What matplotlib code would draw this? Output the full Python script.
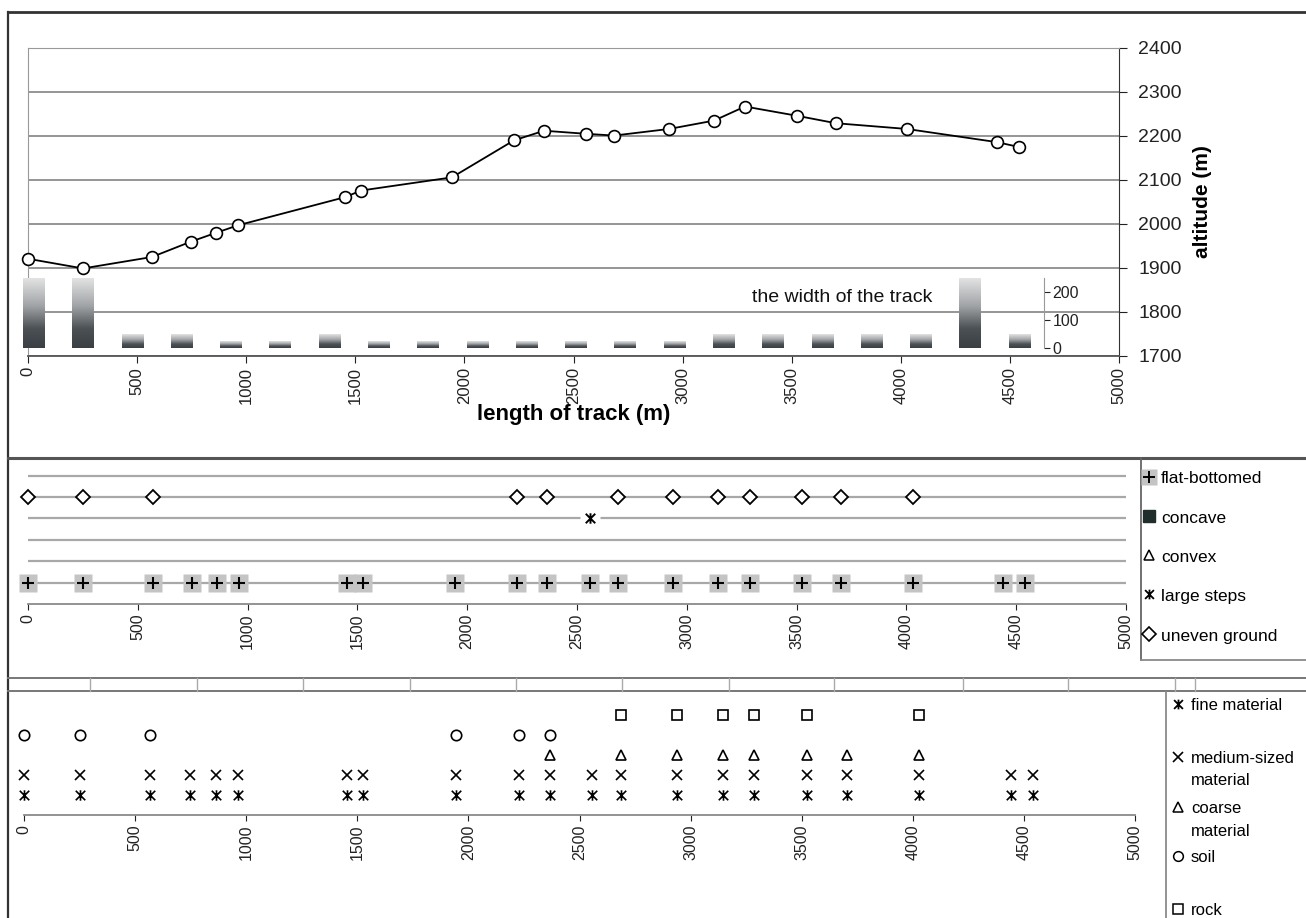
import numpy as np
import matplotlib
matplotlib.use('Agg')
import matplotlib.pyplot as plt
from matplotlib.colors import LinearSegmentedColormap
from matplotlib.legend import Legend
from matplotlib.lines import Line2D
from matplotlib.path import Path

plt.rcParams['font.family'] = ['Liberation Sans', 'DejaVu Sans']

# ##############################################################################
# data
# ##############################################################################

# measuring points along the track (m) and their altitude (m)
track_len = [0, 252, 568, 747, 862, 962, 1453, 1526, 1943, 2227, 2365,
             2557, 2686, 2938, 3144, 3286, 3524, 3703, 4028, 4441, 4542]
altitude = [1921, 1899, 1925, 1960, 1980, 1997, 2061, 2076, 2106, 2190, 2212,
            2205, 2201, 2216, 2235, 2267, 2246, 2229, 2216, 2186, 2175]

# width of the track at each point (cm)
track_width = [250, 250, 50, 50, 25, 25, 50, 25, 25, 25, 25,
               25, 25, 25, 50, 50, 50, 50, 50, 250, 50]

# cross-section of the track bed
flat_bottomed_x = track_len
concave_x = []
convex_x = []
large_steps_x = [2557]
uneven_ground_x = [0, 252, 568, 2227, 2365, 2686, 2938, 3144, 3286, 3524, 3703, 4028]

# surface material
fine_x = track_len
medium_x = track_len
coarse_x = [2365, 2686, 2938, 3144, 3286, 3524, 3703, 4028]
soil_x = [0, 252, 568, 1943, 2227, 2365]
rock_x = [2686, 2938, 3144, 3286, 3524, 4028]

x_ticks = list(range(0, 5001, 500))
alt_ticks = list(range(1700, 2401, 100))
width_ticks = [0, 100, 200]

# ##############################################################################
# figure layout (everything in pixels of the 1306 x 918 picture)
# ##############################################################################
W, H = 1306, 918


def box(left, top, right, bottom):
    return [left / W, 1 - bottom / H, (right - left) / W, (bottom - top) / H]


fig = plt.figure(figsize=(W / 100, H / 100), dpi=100)

# excel-like star marker (x with a vertical stroke)
star = Path([(-1, -1), (1, 1), (-1, 1), (1, -1), (0, -1.1), (0, 1.1)],
            [Path.MOVETO, Path.LINETO] * 3)

tick_col = '#222222'
axis_col = '#8a8a8a'

# outer frame and separators
bg = fig.add_axes([0, 0, 1, 1], zorder=-5)
bg.set_xlim(0, W)
bg.set_ylim(H, 0)
bg.axis('off')
bg.plot([8, W], [12, 12], color='#333333', lw=2)
bg.plot([8, 8], [12, H], color='#333333', lw=1.6)
bg.plot([8, W], [458, 458], color='#555555', lw=2.2)
bg.plot([8, W], [678, 678], color='#777777', lw=1.4)
bg.plot([8, W], [691, 691], color='#777777', lw=1.4)
for sx in [90, 197, 303, 410, 516, 622, 729, 834, 963, 1068, 1175, 1195]:
    bg.plot([sx, sx], [678, 691], color='#aaaaaa', lw=1)

# ##############################################################################
# top panel: altitude profile
# ##############################################################################
ax = fig.add_axes(box(28, 48, 1119, 356))
ax.set_facecolor('none')
ax.plot(track_len, altitude, color='black', lw=1.3, marker='o', ms=8.5,
        mfc='white', mec='black', mew=1.2, zorder=6, clip_on=False)
ax.set_xlim(0, 5000)
ax.set_ylim(1700, 2400)
ax.set_xticks(x_ticks)
ax.set_yticks(alt_ticks)
ax.yaxis.tick_right()
ax.yaxis.set_label_position('right')
ax.grid(axis='y', color='#8c8c8c', lw=1.3)
ax.set_axisbelow(True)
ax.tick_params(axis='x', direction='out', length=5, labelsize=12, labelrotation=90,
               pad=3, colors=tick_col)
ax.tick_params(axis='y', direction='out', length=6, labelsize=14, pad=8, colors=tick_col)
for s in ['left', 'top']:
    ax.spines[s].set_color('#999999')
ax.spines['right'].set_color('#333333')
ax.spines['bottom'].set_color('#555555')
ax.spines['bottom'].set_linewidth(1.3)
ax.set_xlabel('length of track (m)', fontsize=16, fontweight='bold', labelpad=0)
ax.set_ylabel('altitude (m)', fontsize=15, fontweight='bold', labelpad=8)

# track width bars with a dark-to-light gradient
bax = fig.add_axes(box(9, 278, 1044, 348), zorder=3)
bax.patch.set_visible(False)
bar_cmap = LinearSegmentedColormap.from_list(
    'bars', [(0, '#3a3f43'), (0.28, '#4c5155'), (0.6, '#a0a3a6'), (1, '#e3e3e3')])
grad = np.linspace(0, 1, 256).reshape(-1, 1)
bars = bax.bar(range(len(track_width)), track_width, width=0.43, color='none', edgecolor='none')
for b in bars:
    bax.imshow(grad, extent=[b.get_x(), b.get_x() + b.get_width(), 0, b.get_height()],
               origin='lower', cmap=bar_cmap, aspect='auto', zorder=2)
bax.set_xlim(-0.5, len(track_width) - 0.5)
bax.set_ylim(0, 250)
bax.set_xticks([])
bax.set_yticks(width_ticks)
bax.yaxis.tick_right()
bax.tick_params(axis='y', direction='out', length=4, labelsize=11.5, pad=2,
                colors=tick_col)
for s in ['left', 'top', 'bottom']:
    bax.spines[s].set_visible(False)
bax.spines['right'].set_color('#999999')
bax.text(16.4, 182, 'the width of the track', fontsize=14, ha='center', va='center',
         color='#111111')

# ##############################################################################
# middle panel: cross-section of the track bed
# ##############################################################################
axm = fig.add_axes(box(28, 474, 1126, 604))
axm.set_xlim(0, 5000)
axm.set_ylim(0, 6.08)
axm.set_yticks(range(1, 7))
axm.tick_params(axis='y', left=False, labelleft=False)
axm.grid(axis='y', color='#a8a8a8', lw=1.6)
axm.set_axisbelow(True)
pm = dict(ls='none', clip_on=False)
axm.plot(flat_bottomed_x, [1] * len(flat_bottomed_x), marker='s', ms=12.5,
         mfc='#c4c4c4', mec='none', zorder=3, **pm)
axm.plot(flat_bottomed_x, [1] * len(flat_bottomed_x), marker='+', ms=8,
         mew=1.5, color='black', zorder=4, **pm)
axm.plot(concave_x, [2] * len(concave_x), marker='s', ms=8, color='#1f2e2a', **pm)
axm.plot(convex_x, [3] * len(convex_x), marker='^', ms=7, mfc='white', mec='black', **pm)
axm.plot(large_steps_x, [4] * len(large_steps_x), marker='s', ms=14,
         mfc='white', mec='none', zorder=3, **pm)
axm.plot(large_steps_x, [4] * len(large_steps_x), marker=star, ms=7.5,
         mec='black', mfc='none', mew=1.4, zorder=4, **pm)
axm.plot(uneven_ground_x, [5] * len(uneven_ground_x), marker='D', ms=7.5,
         mfc='white', mec='black', mew=1.3, zorder=4, **pm)
axm.set_xticks(x_ticks)
axm.tick_params(axis='x', direction='out', length=4, labelsize=11.5, labelrotation=90,
                pad=3, colors=tick_col)
for s in ['left', 'top', 'right']:
    axm.spines[s].set_visible(False)
axm.spines['bottom'].set_color(axis_col)
axm.spines['bottom'].set_linewidth(1.3)

# ##############################################################################
# bottom panel: surface material
# ##############################################################################
axb = fig.add_axes(box(24, 695, 1135, 815))
axb.set_xlim(0, 5000)
axb.set_ylim(0, 6)
mk = dict(ls='none', mfc='none', mec='black', mew=1.2, clip_on=False)
axb.plot(fine_x, [1] * len(fine_x), marker=star, ms=7.5, **mk)
axb.plot(medium_x, [2] * len(medium_x), marker='x', ms=7, **mk)
axb.plot(coarse_x, [3] * len(coarse_x), marker='^', ms=7.5, **mk)
axb.plot(soil_x, [4] * len(soil_x), marker='o', ms=7.5, **mk)
axb.plot(rock_x, [5] * len(rock_x), marker='s', ms=7.5, **mk)
axb.set_xticks(x_ticks)
axb.set_yticks([])
axb.tick_params(axis='x', direction='out', length=4, labelsize=11.5, labelrotation=90,
                pad=3, colors=tick_col)
for s in ['left', 'top', 'right']:
    axb.spines[s].set_visible(False)
axb.spines['bottom'].set_color(axis_col)
axb.spines['bottom'].set_linewidth(1.3)


# ##############################################################################
# legends
# ##############################################################################
def legend_box(rect):
    lax = fig.add_axes(rect)
    lax.patch.set_visible(False)
    lax.set_xticks([])
    lax.set_yticks([])
    for s in ['top', 'right']:
        lax.spines[s].set_visible(False)
    for s in ['left', 'bottom']:
        lax.spines[s].set_color(axis_col)
        lax.spines[s].set_linewidth(1.3)
    return lax


def add_entries(lax, entries, xoff, fs, tpad):
    for handle, label, yy in entries:
        leg = Legend(lax, [handle], [label], loc='center left', bbox_to_anchor=(xoff, yy),
                     frameon=False, fontsize=fs, handlelength=0.8, handletextpad=tpad,
                     borderaxespad=0, borderpad=0)
        lax.add_artist(leg)


blank = Line2D([], [], ls='none')
h_flat = (Line2D([], [], ls='none', marker='s', ms=11, mfc='#c4c4c4', mec='none'),
          Line2D([], [], ls='none', marker='+', ms=8, mew=1.4, color='black'))
h_concave = Line2D([], [], ls='none', marker='s', ms=8, mfc='#1f2e2a', mec='#1f2e2a')
h_convex = Line2D([], [], ls='none', marker='^', ms=6.5, mfc='white', mec='black', mew=1.1)
h_star = Line2D([], [], ls='none', marker=star, ms=7, mfc='none', mec='black', mew=1.3)
h_diam = Line2D([], [], ls='none', marker='D', ms=7, mfc='white', mec='black', mew=1.2)

lax_m = legend_box(box(1141, 458, W + 5, 660))
lax_m.spines['left'].set_color('#666666')
add_entries(lax_m, [(h_flat, 'flat-bottomed', 0.90),
                    (h_concave, 'concave', 0.703),
                    (h_convex, 'convex', 0.51),
                    (h_star, 'large steps', 0.317),
                    (h_diam, 'uneven ground', 0.119)], 0.006, 12.5, 0.3)

h_x = Line2D([], [], ls='none', marker='x', ms=7, mec='black', mew=1.2)
h_tri = Line2D([], [], ls='none', marker='^', ms=7, mfc='none', mec='black', mew=1.1)
h_circ = Line2D([], [], ls='none', marker='o', ms=7, mfc='none', mec='black', mew=1.1)
h_sq = Line2D([], [], ls='none', marker='s', ms=7, mfc='none', mec='black', mew=1.1)

lax_b = legend_box(box(1166, 692, W + 5, H + 5))
add_entries(lax_b, [(h_star, 'fine material', 0.942),
                    (h_x, 'medium-sized', 0.712),
                    (blank, 'material', 0.619),
                    (h_tri, 'coarse', 0.496),
                    (blank, 'material', 0.398),
                    (h_circ, 'soil', 0.283),
                    (h_sq, 'rock', 0.053)], 0.04, 12, 0.35)

plt.savefig('out.png', dpi=100)
